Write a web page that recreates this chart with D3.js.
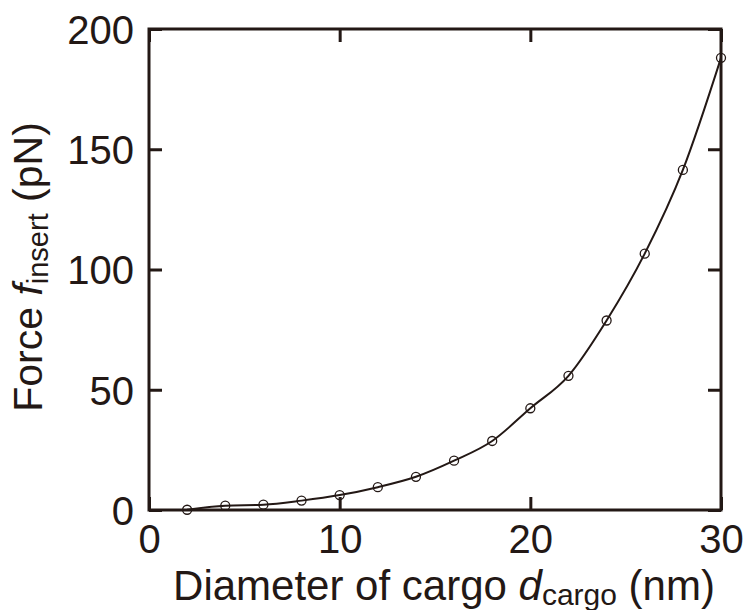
<!DOCTYPE html>
<html>
<head>
<meta charset="utf-8">
<script src="https://cdn.jsdelivr.net/npm/d3@7"></script>
<style>
  body { margin: 0; background: #fff; }
  text { font-family: "Liberation Sans", Arial, sans-serif; fill: #231815; }
</style>
</head>
<body>
<div id="chart"></div>
<script>
const diameter = [2, 4, 6, 8, 10, 12, 14, 16, 18, 20, 22, 24, 26, 28, 30];
const force = [0.1, 1.8, 2.2, 3.9, 6.2, 9.5, 13.8, 20.5, 28.7, 42.3, 55.8, 78.8, 106.6, 141.4, 188];
const xTicks = [0, 10, 20, 30];
const yTicks = [0, 50, 100, 150, 200];

const ink = "#231815";
const margin = { top: 29, right: 25, bottom: 100, left: 149 };
const width = 746 - margin.left - margin.right;
const height = 610 - margin.top - margin.bottom;

const svg = d3.select("#chart")
  .append("svg")
    .attr("width", 746)
    .attr("height", 610)
  .append("g")
    .attr("transform", `translate(${margin.left},${margin.top})`);

const x = d3.scaleLinear().domain([0, 30]).range([0, width]);
const y = d3.scaleLinear().domain([0, 200]).range([height, 0]);

const data = diameter.map((d, i) => ({ d, f: force[i] }));

// ticks on all four sides, pointing inward
function styleAxis(g) {
  g.select(".domain").remove();
  g.selectAll(".tick line").attr("stroke", ink).attr("stroke-width", 3);
  g.selectAll(".tick text").attr("fill", ink).style("font-size", "40px");
}

svg.append("g")
  .attr("transform", `translate(0,${height})`)
  .call(d3.axisBottom(x).tickValues(xTicks).tickSizeInner(-13).tickSizeOuter(0).tickPadding(15))
  .call(styleAxis)
  .call(g => g.selectAll(".tick text").attr("dy", "0.71em"));

svg.append("g")
  .call(d3.axisTop(x).tickValues(xTicks).tickSizeInner(-13).tickSizeOuter(0).tickFormat(""))
  .call(styleAxis);

svg.append("g")
  .call(d3.axisLeft(y).tickValues(yTicks).tickSizeInner(-13).tickSizeOuter(0).tickPadding(15))
  .call(styleAxis)
  .call(g => g.selectAll(".tick text").attr("dy", "0.36em"));

svg.append("g")
  .attr("transform", `translate(${width},0)`)
  .call(d3.axisRight(y).tickValues(yTicks).tickSizeInner(-13).tickSizeOuter(0).tickFormat(""))
  .call(styleAxis);

svg.append("rect")
  .attr("width", width)
  .attr("height", height)
  .attr("fill", "none")
  .attr("stroke", ink)
  .attr("stroke-width", 3);

// curve
const line = d3.line()
  .x(d => x(d.d))
  .y(d => y(d.f))
  .curve(d3.curveMonotoneX);

svg.append("path")
  .datum(data)
  .attr("fill", "none")
  .attr("stroke", ink)
  .attr("stroke-width", 2)
  .attr("d", line);

svg.selectAll("circle")
  .data(data)
  .enter()
  .append("circle")
    .attr("cx", d => x(d.d))
    .attr("cy", d => y(d.f))
    .attr("r", 4.5)
    .attr("fill", "none")
    .attr("stroke", ink)
    .attr("stroke-width", 1.3);

// axis titles
const xt = svg.append("text")
  .attr("x", width / 2 + 9)
  .attr("y", height + 90)
  .attr("text-anchor", "middle")
  .style("font-size", "42px");
xt.append("tspan").text("Diameter of cargo ");
xt.append("tspan").style("font-style", "italic").text("d");
xt.append("tspan").attr("dy", 5).style("font-size", "30px").text("cargo");
xt.append("tspan").attr("dy", -5).text(" (nm)");

const yt = svg.append("text")
  .attr("transform", `translate(${42 - margin.left},${238}) rotate(-90)`)
  .attr("text-anchor", "middle")
  .style("font-size", "41px");
yt.append("tspan").text("Force ");
yt.append("tspan").style("font-style", "italic").text("f");
yt.append("tspan").attr("dy", 6).style("font-size", "29px").text("insert");
yt.append("tspan").attr("dy", -6).text(" (pN)");
</script>
</body>
</html>
